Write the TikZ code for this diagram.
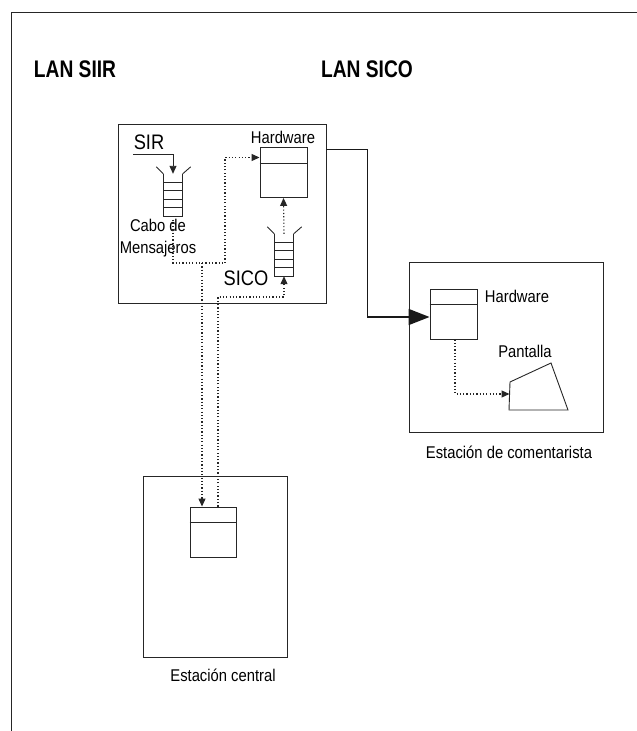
\documentclass[tikz,border=0pt]{standalone}
\usepackage{fontspec}
\setmainfont{Liberation Sans}[FakeStretch=0.87]
\newfontfamily\lanfont{Liberation Sans}[FakeStretch=0.8]
\usetikzlibrary{arrows.meta}

\tikzset{
  linea/.style={draw=black!85, line width=0.9pt},
  marco/.style={linea, rectangle, inner sep=0},
  hw/.style={marco, minimum width=47pt, minimum height=50pt},
  cola/.style={inner sep=0, minimum width=19pt, minimum height=42pt},
  punteado/.style={draw=black!85, line width=1.1pt, dash pattern=on 1.2pt off 2.1pt},
  txt/.style={inner sep=0, font=\fontsize{17}{22}\selectfont},
  grande/.style={inner sep=0, font=\fontsize{21}{24}\selectfont},
  lan/.style={inner sep=0, font=\lanfont\bfseries\fontsize{24}{26}\selectfont}
}

\begin{document}
\begin{tikzpicture}[x=1pt, y=-1pt, >={Triangle[length=8pt,width=7pt]}]
    \useasboundingbox (0,0) rectangle (637,731);
    \draw[linea] (11,731) -- (11,12) -- (637,12); % marco exterior

    \node[lan] (lsiir) at (75,69) {LAN SIIR};
    \node[lan] (lsico) at (367,69) {LAN SICO};

    % LAN SIIR
    \node[marco, minimum width=208pt, minimum height=179pt] (siir) at (222,213.5) {};
    \node[grande] (sir) at (149,142) {SIR};
    \node[cola] (q1) at (173,195) {};
    \node[txt, align=center] (cabo) at (158,238) {Cabo de\\Mensajeros};
    \node[hw] (hw1) at (283.5,172.5) {};
    \node[txt] (lhw1) at (283,137) {Hardware};
    \node[cola] (q2) at (284,255) {};
    \node[grande] (sico) at (246,278) {SICO};

    % colas
    \foreach \q in {q1,q2} {
        \draw[linea] (\q.north west) -- (\q.south west) -- (\q.south east) -- (\q.north east);
        \foreach \k in {1,...,4}
            \draw[linea] ([yshift={-8.4pt*\k}]\q.north west) -- ([yshift={-8.4pt*\k}]\q.north east);
        \draw[linea] (\q.north west) -- ++(-7,-7);
        \draw[linea] (\q.north east) -- ++(8,-7);
    }

    % estacion de comentarista
    \node[marco, minimum width=194pt, minimum height=170pt] (coment) at (506,347) {};
    \node[hw] (hw2) at (453.5,314) {};
    \node[txt] (lhw2) at (517,296) {Hardware};
    \node[txt] (lpant) at (525,351) {Pantalla};
    \draw[linea] (510,382) -- (551,363) -- (568,410) -- (509,410) -- cycle; % pantalla
    \coordinate (pant) at (509.5,394);
    \node[txt] (lcoment) at (509,452) {Estación de comentarista};

    % estacion central
    \node[marco, minimum width=144pt, minimum height=181pt] (centro) at (215,566.5) {};
    \node[hw, minimum width=46pt] (hw3) at (213,532) {};
    \node[txt] (lcentro) at (223,675) {Estación central};

    % divisiones del hardware
    \foreach \h in {hw1,hw2,hw3}
        \draw[linea] ([yshift=-16pt]\h.north west) -- ([yshift=-16pt]\h.north east);

    % conexiones
    \coordinate (sirin) at (133,154);
    \coordinate (j1) at (225,263);
    \coordinate (j2) at (250,297);
    \draw[linea, ->] (sirin) -| (q1.north);
    \draw[punteado, ->] (q1.south) |- (j1) |- ([yshift=15pt]hw1.west);
    \draw[punteado, ->] ([xshift=-11pt]hw3.north |- j1) -- ([xshift=-11pt]hw3.north);
    \draw[punteado, ->] ([xshift=5pt]hw3.north) |- (j2) -| (q2.south);
    \draw[punteado, ->] (q2.north) -- (hw1.south);
    \draw[draw=black!90, line width=1.6pt, -{Triangle[length=21pt,width=16pt]}]
        ([yshift=-26pt]siir.north east) -- ++(41,0) |- ([yshift=-3pt]hw2.west);
    \draw[punteado, ->] ([xshift=1.5pt]hw2.south) |- (pant);
\end{tikzpicture}
\end{document}
